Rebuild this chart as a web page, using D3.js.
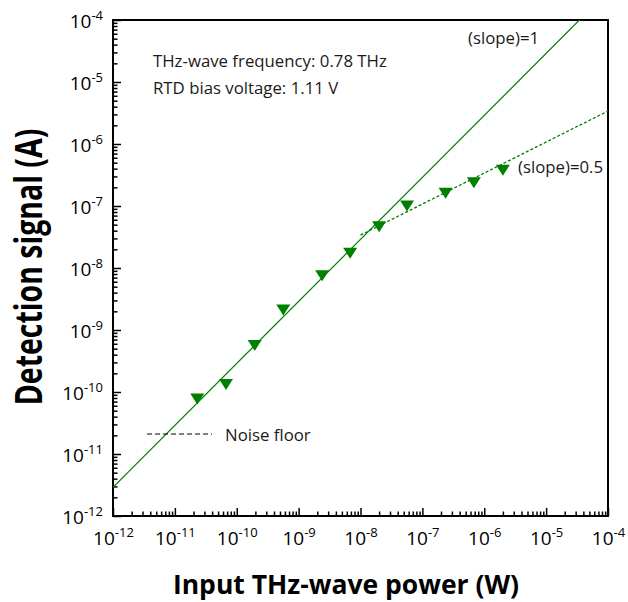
<!DOCTYPE html>
<html>
<head>
<meta charset="utf-8">
<script src="https://cdn.jsdelivr.net/npm/d3@7"></script>
<style>
  body { margin: 0; background: #ffffff; }
  svg text { font-family: "Open Sans", "Noto Sans", sans-serif; }
</style>
</head>
<body>
<div id="chart"></div>
<script>
// Measured points: input THz-wave power (W) vs detection signal (A).
const power = [2.3e-11, 6.7e-11, 1.95e-10, 5.65e-10, 2.4e-9, 6.8e-9, 2.0e-8, 5.65e-8, 2.37e-7, 6.8e-7, 2.0e-6];
const signal = [7.7e-11, 1.32e-10, 5.6e-10, 2.1e-9, 7.5e-9, 1.73e-8, 4.63e-8, 1.0e-7, 1.61e-7, 2.37e-7, 3.77e-7];
// Guide lines, given by their end points [power, signal].
const slopeOneLine = [[1e-12, 2.9e-12], [3.45e-5, 1e-4]];
const slopeHalfLine = [[1e-8, 3.4e-8], [1e-4, 3.4e-6]];
const noiseFloor = [[3.55e-12, 2.1e-11], [3.98e-11, 2.1e-11]];
// Decade exponents used as tick labels.
const xTickExps = [-12, -11, -10, -9, -8, -7, -6, -5, -4];
const yTickExps = [-12, -11, -10, -9, -8, -7, -6, -5, -4];

const width = 628, height = 602;
const green = "#008000";

const svg = d3.select("#chart")
  .append("svg")
  .attr("width", width)
  .attr("height", height)
  .attr("viewBox", [0, 0, width, height]);

const x = d3.scaleLog().domain([1e-12, 1e-4]).range([113, 608]);
const y = d3.scaleLog().domain([1e-12, 1e-4]).range([516, 20]);

svg.append("defs").append("clipPath")
  .attr("id", "plotClip")
  .append("rect")
  .attr("x", 113).attr("y", 20)
  .attr("width", 495).attr("height", 496);

// Minor ticks come from the scale itself (1..9 in each decade), minus the decades.
const isDecade = v => Math.abs(Math.log10(v) - Math.round(Math.log10(v))) < 1e-9;
const xMinor = x.ticks().filter(v => !isDecade(v));
const yMinor = y.ticks().filter(v => !isDecade(v));

// Turn a decade tick label into "10" with a raised exponent.
function powerLabel(sel) {
  sel.selectAll(".tick text").each(function(d) {
    const t = d3.select(this);
    t.text(null);
    t.append("tspan").text("10");
    t.append("tspan")
      .attr("dy", "-8")
      .attr("font-size", "13px")
      .text(Math.round(Math.log10(d)));
  });
}

// X axis: minor then major ticks, all pointing inward.
svg.append("g")
  .attr("transform", "translate(0,516)")
  .call(d3.axisBottom(x).tickValues(xMinor).tickSizeInner(-4.5).tickSizeOuter(0).tickFormat(""))
  .call(g => g.select(".domain").remove());
svg.append("g")
  .attr("class", "xAxis")
  .attr("transform", "translate(0,516)")
  .call(d3.axisBottom(x)
    .tickValues(xTickExps.map(e => Math.pow(10, e)))
    .tickSizeInner(-8).tickSizeOuter(0).tickPadding(16))
  .call(powerLabel)
  .call(g => g.selectAll(".tick text").attr("font-size", "19px").attr("fill", "#000"));

// Y axis.
svg.append("g")
  .attr("transform", "translate(113,0)")
  .call(d3.axisLeft(y).tickValues(yMinor).tickSizeInner(-4.5).tickSizeOuter(0).tickFormat(""))
  .call(g => g.select(".domain").remove());
svg.append("g")
  .attr("class", "yAxis")
  .attr("transform", "translate(113,0)")
  .call(d3.axisLeft(y)
    .tickValues(yTickExps.map(e => Math.pow(10, e)))
    .tickSizeInner(-8).tickSizeOuter(0).tickPadding(10))
  .call(powerLabel)
  .call(g => g.selectAll(".tick text").attr("font-size", "19px").attr("fill", "#000").attr("dy", "0.42em"));

svg.selectAll(".tick line").attr("stroke", "#000").attr("stroke-width", 1.5);
svg.selectAll(".domain").remove();

// Frame around the plot area.
svg.append("rect")
  .attr("x", 113).attr("y", 20)
  .attr("width", 495).attr("height", 496)
  .attr("fill", "none")
  .attr("stroke", "#000")
  .attr("stroke-width", 2);

const line = d3.line().x(d => x(d[0])).y(d => y(d[1]));
const plot = svg.append("g").attr("clip-path", "url(#plotClip)");

plot.append("path")
  .datum(slopeOneLine)
  .attr("d", line)
  .attr("fill", "none")
  .attr("stroke", green)
  .attr("stroke-width", 1.2);

plot.append("path")
  .datum(slopeHalfLine)
  .attr("d", line)
  .attr("fill", "none")
  .attr("stroke", green)
  .attr("stroke-width", 1.3)
  .attr("stroke-dasharray", "3,2");

plot.append("path")
  .datum(noiseFloor)
  .attr("d", line)
  .attr("fill", "none")
  .attr("stroke", "#000")
  .attr("stroke-width", 1)
  .attr("stroke-dasharray", "5,3");

// Down-pointing triangle markers, centred on their bounding box.
const tri = "M-7,-5.5L7,-5.5L0,5.5Z";
plot.selectAll(".point")
  .data(power.map((p, i) => [p, signal[i]]))
  .join("path")
  .attr("class", "point")
  .attr("d", tri)
  .attr("transform", d => `translate(${x(d[0])},${y(d[1])})`)
  .attr("fill", green);

// Annotations.
const notes = [
  { text: "THz-wave frequency: 0.78 THz", x: 153, y: 67 },
  { text: "RTD bias voltage: 1.11 V", x: 153, y: 94 },
  { text: "(slope)=1", x: 468, y: 44 },
  { text: "(slope)=0.5", x: 518, y: 173 },
  { text: "Noise floor", x: 225, y: 441 }
];
svg.selectAll(".note")
  .data(notes)
  .join("text")
  .attr("class", "note")
  .attr("x", d => d.x)
  .attr("y", d => d.y)
  .attr("font-size", "16.8px")
  .attr("fill", "#1a1a1a")
  .text(d => d.text);

// Axis titles.
svg.append("text")
  .attr("x", 346)
  .attr("y", 594)
  .attr("text-anchor", "middle")
  .attr("font-size", "26.5px")
  .attr("font-weight", "bold")
  .attr("fill", "#000")
  .text("Input THz-wave power (W)");

// The y title is drawn taller than it is long in the original, hence the stretch.
svg.append("text")
  .attr("transform", "translate(42,267) rotate(-90) scale(1,1.3)")
  .attr("text-anchor", "middle")
  .attr("font-size", "28.5px")
  .attr("font-weight", "bold")
  .attr("fill", "#000")
  .text("Detection signal (A)");
</script>
</body>
</html>
